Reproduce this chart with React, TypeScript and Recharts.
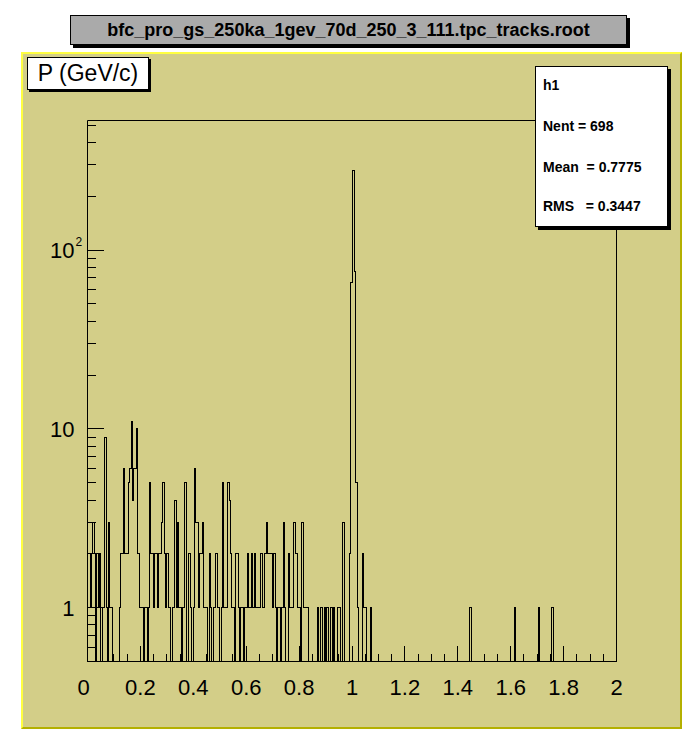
import { ComposedChart, Line, XAxis, YAxis, ReferenceArea } from "recharts";

// histogram h1: 400 bins of 0.005 GeV/c between 0 and 2
const binWidth = 0.005;
const nBins = 400;

// counts for bins 0..214
const lowCounts = [
  2, 2, 1, 2, 3, 2, 0, 2, 1, 2,
  0, 1, 1, 9, 1, 0, 3, 1, 1, 0,
  0, 0, 0, 0, 1, 2, 2, 6, 2, 2,
  2, 5, 6, 11, 4, 6, 6, 10, 2, 1,
  1, 1, 0, 1, 1, 0, 1, 5, 2, 2,
  1, 2, 2, 1, 2, 2, 3, 5, 2, 1,
  2, 1, 1, 0, 1, 1, 4, 1, 3, 1,
  1, 0, 1, 5, 5, 0, 2, 2, 1, 0,
  1, 6, 3, 3, 1, 2, 2, 3, 1, 1,
  1, 0, 2, 1, 0, 1, 1, 2, 1, 1,
  0, 1, 5, 1, 1, 1, 5, 4, 2, 1,
  1, 0, 2, 2, 1, 0, 1, 1, 0, 1,
  1, 2, 1, 1, 2, 1, 2, 1, 1, 1,
  1, 2, 1, 1, 2, 3, 2, 2, 2, 2,
  1, 2, 1, 0, 1, 1, 0, 1, 3, 1,
  0, 0, 2, 1, 1, 1, 3, 2, 2, 1,
  1, 0, 3, 1, 1, 1, 1, 0, 0, 0,
  0, 0, 0, 0, 1, 0, 1, 1, 0, 1,
  0, 1, 0, 0, 1, 0, 1, 0, 0, 1,
  1, 0, 0, 3, 0, 0, 0, 0, 2, 66,
  277, 277, 76, 5, 1, 0, 0, 0, 2, 1,
  1, 0, 0, 0, 1,
];

// isolated entries in the high-momentum tail
const tailBins = [289, 323, 341, 351];
const tailCounts = [1, 1, 1, 1];

const xMajorTicks = [0, 0.2, 0.4, 0.6, 0.8, 1, 1.2, 1.4, 1.6, 1.8, 2];
const xLabels = ["0", "0.2", "0.4", "0.6", "0.8", "1", "1.2", "1.4", "1.6", "1.8", "2"];
const yMajorTicks = [1, 10, 100];
const yLabels = ["1", "10", "10^2"];
const yMinorTicks = [0.6, 0.7, 0.8, 0.9, 2, 3, 4, 5, 6, 7, 8, 9, 20, 30, 40, 50, 60, 70, 80, 90, 200, 300, 400, 500];

const title = "bfc_pro_gs_250ka_1gev_70d_250_3_111.tpc_tracks.root";
const axisTitle = "P (GeV/c)";
const statLines = ["h1", "Nent = 698", "Mean  = 0.7775", "RMS   = 0.3447"];

const yMin = 0.5;
const yMax = 530;

const counts: number[] = Array.from({ length: nBins }, (_, i) => lowCounts[i] ?? 0);
tailBins.forEach((b, i) => {
  counts[b] = tailCounts[i];
});

// empty bins sit on the bottom of the log frame
const histData = counts.map((c, i) => ({ x: i * binWidth, v: c > 0 ? c : yMin }));
histData.push({ x: nBins * binWidth, v: histData[nBins - 1].v });

const xTicks = Array.from({ length: 41 }, (_, i) => Math.round(i * 5) / 100);

const font = "'Liberation Sans', Arial, Helvetica, sans-serif";

const XTick = (props: any) => {
  const { x, y, payload } = props;
  const idx = xMajorTicks.findIndex((t) => Math.abs(t - payload.value) < 1e-6);
  const major = idx >= 0;
  return (
    <g>
      <line x1={x} x2={x} y1={y} y2={y - (major ? 16 : 8)} stroke="#000" shapeRendering="crispEdges" />
      {major && (
        <text x={idx === 0 ? x - 4 : x} y={y + 33} textAnchor="middle" fontSize={22} fontFamily={font} fill="#000">
          {xLabels[idx]}
        </text>
      )}
    </g>
  );
};

const YTick = (props: any) => {
  const { x, y, payload } = props;
  const idx = yMajorTicks.indexOf(payload.value);
  const major = idx >= 0;
  const label = major ? yLabels[idx] : "";
  const sup = label.includes("^");
  return (
    <g>
      <line x1={x} x2={x + (major ? 16 : 8)} y1={y} y2={y} stroke="#000" shapeRendering="crispEdges" />
      {major && !sup && (
        <text x={x - 13} y={y + 8} textAnchor="end" fontSize={22} fontFamily={font} fill="#000">
          {label}
        </text>
      )}
      {sup && (
        <g>
          <text x={x - 13} y={y + 8} textAnchor="end" fontSize={22} fontFamily={font} fill="#000">
            {label.split("^")[0]}
          </text>
          <text x={x - 12} y={y - 4} textAnchor="start" fontSize={12} fontFamily={font} fill="#000">
            {label.split("^")[1]}
          </text>
        </g>
      )}
    </g>
  );
};

export default function App() {
  return (
    <div style={{ position: "absolute", left: 0, top: 0, width: 696, height: 752, background: "#fff", fontFamily: font }}>
      <style>{`.recharts-line-curve{shape-rendering:crispEdges}`}</style>
      {/* canvas pad */}
      <div
        style={{
          position: "absolute",
          left: 21,
          top: 52,
          width: 657,
          height: 673,
          background: "#d3ce88",
          borderTop: "2px solid #ffff40",
          borderLeft: "2px solid #ffff40",
          borderRight: "2px solid #b4b000",
          borderBottom: "2px solid #b4b000",
        }}
      />
      <div style={{ position: "absolute", left: 0, top: 0 }}>
        <ComposedChart
          width={696}
          height={752}
          data={histData}
          margin={{ top: 120.5, right: 79.5, bottom: 89.5, left: 86.5 }}
        >
          <XAxis
            type="number"
            dataKey="x"
            domain={[0, 2]}
            allowDataOverflow
            ticks={xTicks}
            interval={0}
            height={1}
            tickSize={0}
            tickMargin={0}
            tickLine={false}
            axisLine={false}
            tick={<XTick />}
          />
          <YAxis
            type="number"
            scale="log"
            domain={[yMin, yMax]}
            allowDataOverflow
            ticks={[...yMinorTicks, ...yMajorTicks]}
            interval={0}
            width={1}
            tickSize={0}
            tickMargin={0}
            tickLine={false}
            axisLine={false}
            tick={<YTick />}
          />
          <ReferenceArea x1={0} x2={2} y1={yMin} y2={yMax} fill="none" stroke="#000" strokeWidth={1} ifOverflow="visible" />
          <Line
            type="stepAfter"
            dataKey="v"
            stroke="#000"
            strokeWidth={1}
            dot={false}
            activeDot={false}
            isAnimationActive={false}
          />
        </ComposedChart>
      </div>
      {/* title box */}
      <div
        style={{
          position: "absolute",
          left: 70,
          top: 15,
          width: 555,
          height: 28,
          background: "#aaaaaa",
          border: "1px solid #000",
          boxShadow: "3px 3px 0 #000",
          textAlign: "center",
          lineHeight: "28px",
          fontSize: 18,
          fontWeight: "bold",
          color: "#000",
        }}
      >
        {title}
      </div>
      {/* axis title box */}
      <div
        style={{
          position: "absolute",
          left: 27,
          top: 57,
          width: 120,
          height: 31,
          background: "#fff",
          border: "1px solid #000",
          boxShadow: "2px 2px 0 #000",
          textAlign: "center",
          lineHeight: "31px",
          fontSize: 23,
          color: "#000",
        }}
      >
        {axisTitle}
      </div>
      {/* stats box */}
      <div
        style={{
          position: "absolute",
          left: 535,
          top: 66,
          width: 131,
          height: 159,
          background: "#fff",
          border: "1px solid #000",
          boxShadow: "3px 3px 0 #000",
        }}
      >
        {statLines.map((s, i) => (
          <div
            key={i}
            style={{
              position: "absolute",
              left: 7,
              top: [10, 51, 92, 131][i],
              whiteSpace: "pre",
              fontSize: 14,
              fontWeight: "bold",
              lineHeight: "16px",
              color: "#000",
            }}
          >
            {s}
          </div>
        ))}
      </div>
    </div>
  );
}
